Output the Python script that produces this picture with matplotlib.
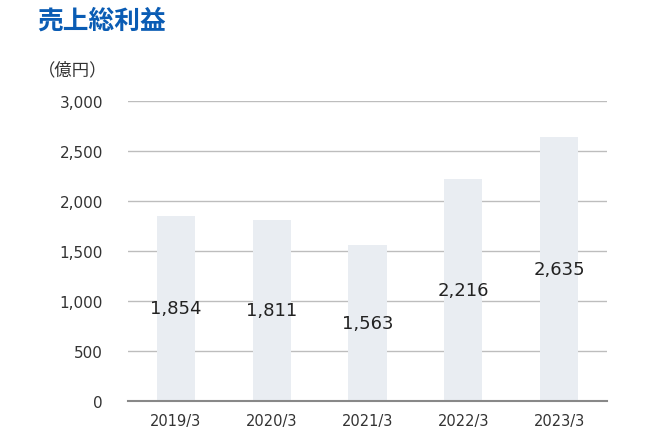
import matplotlib.pyplot as plt
import numpy as np

plt.rcParams['font.family'] = ['DejaVu Sans', 'Noto Sans CJK JP']

years = ['2019/3', '2020/3', '2021/3', '2022/3', '2023/3']
profit = [1854, 1811, 1563, 2216, 2635]
yticks = [0, 500, 1000, 1500, 2000, 2500, 3000]

fig = plt.figure(figsize=(6.58, 4.39), dpi=100)
ax = fig.add_axes([0.1945, 0.0843, 0.728, 0.6834])

x = np.arange(len(years))
ax.bar(x, profit, width=0.4, color='#e9edf2', zorder=2)
for xi, v in zip(x, profit):
    ax.text(xi, v / 2, f'{v:,}', ha='center', va='center', fontsize=13, color='#222222', zorder=3)

ax.set_xlim(-0.5, len(years) - 0.5)
ax.set_ylim(0, 3000)
ax.set_yticks(yticks)
ax.set_yticklabels([f'{t:,}' for t in yticks], fontsize=11, color='#333333')
ax.set_xticks(x)
ax.set_xticklabels(years, fontsize=10.5, color='#333333')
ax.tick_params(length=0)
ax.tick_params(axis='y', pad=18)
ax.tick_params(axis='x', pad=9)
ax.yaxis.grid(True, color='#bdbdbd', linewidth=1, zorder=0)
for s in ['top', 'right', 'left']:
    ax.spines[s].set_visible(False)
ax.spines['bottom'].set_color('#888888')
ax.spines['bottom'].set_linewidth(1.5)
ax.spines['bottom'].set_zorder(4)

fig.text(37 / 658, 1 - 21 / 439, '売上総利益', fontsize=18.5, fontweight='bold', color='#0a5cb4',
         family=['Noto Sans CJK JP'], va='center', ha='left')
fig.text(38 / 658, 1 - 70 / 439, '（億円）', fontsize=12.5, color='#333333',
         family=['Noto Sans CJK JP'], va='center', ha='left')

fig.savefig('out.png', dpi=100, facecolor='white')
